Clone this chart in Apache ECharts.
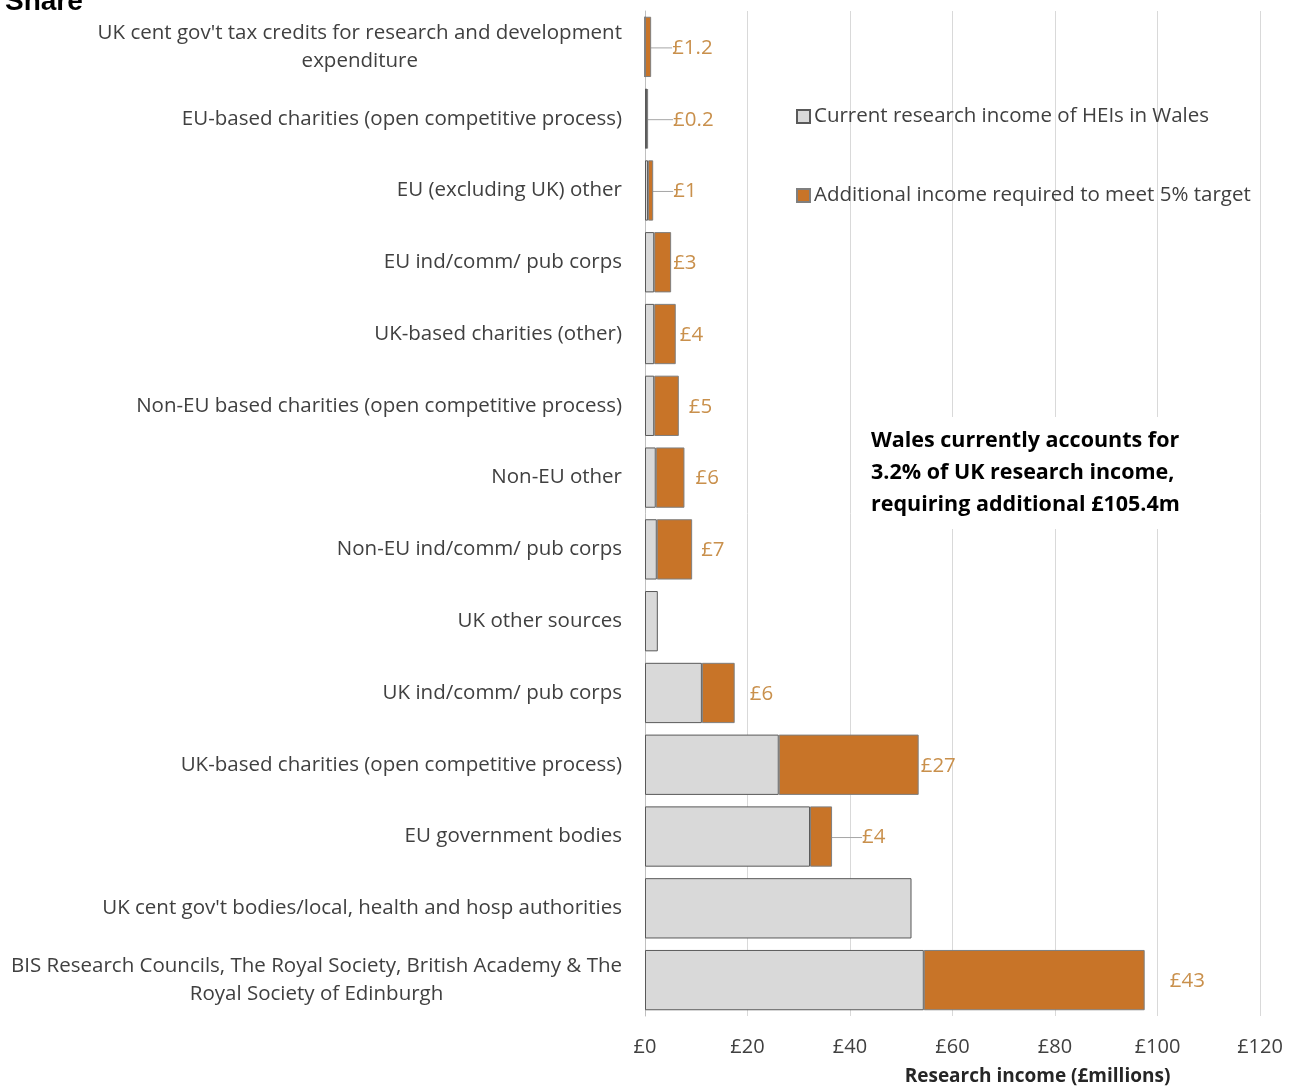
<!DOCTYPE html>
<html>
<head>
<meta charset="utf-8">
<script src="https://cdn.jsdelivr.net/npm/echarts@6/dist/echarts.min.js"></script>
<style>html,body{margin:0;padding:0;background:#fff;}#c{width:1297px;height:1086px;}</style>
</head>
<body>
<div id="c"></div>
<script>
const categories = [
  "UK cent gov't tax credits for research and development\nexpenditure",
  "EU-based charities (open competitive process)",
  "EU (excluding UK) other",
  "EU ind/comm/ pub corps",
  "UK-based charities (other)",
  "Non-EU based charities (open competitive process)",
  "Non-EU other",
  "Non-EU ind/comm/ pub corps",
  "UK other sources",
  "UK ind/comm/ pub corps",
  "UK-based charities (open competitive process)",
  "EU government bodies",
  "UK cent gov't bodies/local, health and hosp authorities",
  "BIS Research Councils, The Royal Society, British Academy & The\nRoyal Society of Edinburgh"
];
const currentIncome = [0, 0.4, 0.6, 1.8, 1.8, 1.8, 2.1, 2.3, 2.5, 11.1, 26.1, 32.2, 52.0, 54.4];
const additionalIncome = [1.2, 0.2, 1.0, 3.3, 4.2, 4.8, 5.6, 6.9, null, 6.4, 27.3, 4.3, null, 43.1];
const seriesNames = ["Current research income of HEIs in Wales", "Additional income required to meet 5% target"];
const xMin = 0, xMax = 120, xStep = 20;
const axisTitle = "Research income (£millions)";
const noteText = "Wales currently accounts for\n3.2% of UK research income,\nrequiring additional £105.4m";
const headerText = "Share";

// label styling (not data): horizontal offsets and which labels carry a leader line
const labelDx = [16, 20, 15, -3, -1, 5, 6, 4, 0, 10, -3, 25, 0, 20];
const leader = [true, true, true, false, false, false, false, false, false, false, false, true, false, false];

const FONT = '"Open Sans", Lato, sans-serif';
const chart = echarts.init(document.getElementById('c'), null, {renderer: 'canvas'});

const addData = additionalIncome.map((v, i) => ({
  value: v,
  labelLine: {show: leader[i], lineStyle: {color: '#a6a6a6', width: 1}}
}));

chart.setOption({
  animation: false,
  backgroundColor: '#fff',
  title: {
    text: headerText, left: 0, top: -17,
    textStyle: {fontFamily: '"Liberation Sans", Arial, sans-serif', fontWeight: 'bold', fontSize: 28, color: '#000'}
  },
  legend: {
    orient: 'vertical', left: 791, top: 101, itemGap: 58,
    itemWidth: 13, itemHeight: 13, icon: 'rect',
    textStyle: {fontFamily: FONT, fontSize: 20.5, color: '#404040', padding: [0, 0, 0, -1]},
    data: seriesNames
  },
  grid: {left: 645, right: 37, top: 11, bottom: 70, containLabel: false, outerBoundsMode: 'none'},
  xAxis: {
    type: 'value', min: xMin, max: xMax, interval: xStep,
    axisLine: {show: false}, axisTick: {show: false},
    splitLine: {show: true, lineStyle: {color: '#d9d9d9', width: 1}},
    axisLabel: {formatter: v => '£' + v, fontFamily: FONT, fontSize: 20, color: '#404040', margin: 21},
    name: axisTitle, nameLocation: 'middle', nameGap: 51,
    nameTextStyle: {fontFamily: FONT, fontWeight: 'bold', fontSize: 19, color: '#262626', padding: [0, 0, 0, 170]}
  },
  yAxis: {
    type: 'category', inverse: true, data: categories,
    axisLine: {show: true, lineStyle: {color: '#bfbfbf', width: 1}},
    axisTick: {show: false},
    axisLabel: {
      margin: 23, fontFamily: FONT, fontSize: 20.5, color: '#404040', lineHeight: 28,
      formatter: s => s.split('\n').map(l => '{c|' + l + '}').join('\n'),
      rich: {c: {align: 'center', fontFamily: FONT, fontSize: 20.5, color: '#404040', lineHeight: 28}}
    }
  },
  series: [
    {
      name: seriesNames[0], type: 'bar', stack: 'inc', barCategoryGap: '16%',
      itemStyle: {color: '#d9d9d9', borderColor: '#595959', borderWidth: 1},
      data: currentIncome
    },
    {
      name: seriesNames[1], type: 'bar', stack: 'inc', barCategoryGap: '16%',
      itemStyle: {color: '#c87428', borderColor: '#7f7f7f', borderWidth: 1},
      label: {
        show: true, position: 'right', distance: 5,
        fontFamily: FONT, fontSize: 20.5, color: '#c9904c',
        formatter: p => p.value == null ? '' : '£' + (p.value >= 2 ? Math.round(p.value) : +p.value.toFixed(1))
      },
      labelLine: {show: false, lineStyle: {color: '#a6a6a6'}},
      labelLayout: p => ({dx: labelDx[p.dataIndex], dy: 1}),
      data: addData
    }
  ],
  graphic: [{
    type: 'text', left: 861, top: 417, z: 100,
    style: {
      text: noteText, fontFamily: FONT, fontWeight: 'bold', fontSize: 21.5, lineHeight: 32,
      fill: '#000', backgroundColor: '#fff', padding: [8, 10]
    }
  }]
});
</script>
</body>
</html>
